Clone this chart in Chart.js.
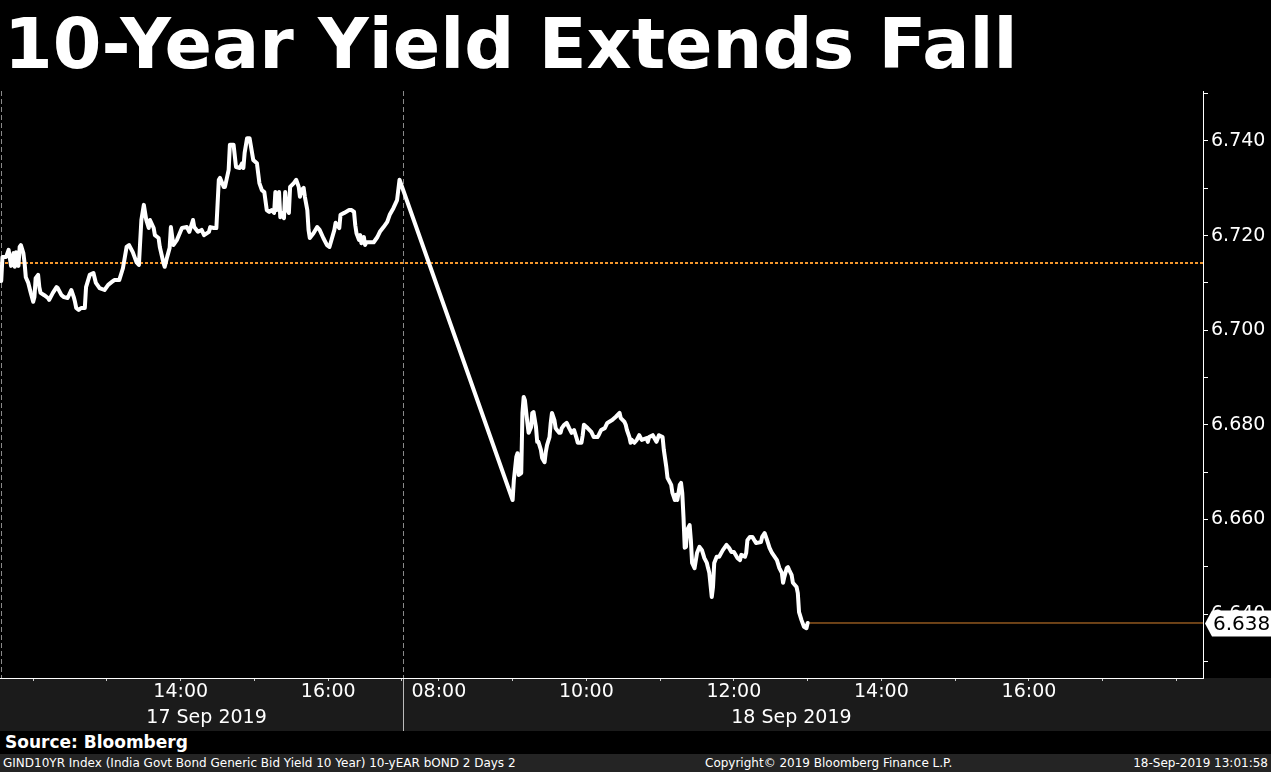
<!DOCTYPE html>
<html>
<head>
<meta charset="utf-8">
<script src="https://cdn.jsdelivr.net/npm/chart.js@4.4.0/dist/chart.umd.min.js"></script>
<style>
  html, body { margin: 0; padding: 0; background: #000; }
  body { width: 1271px; height: 772px; position: relative; overflow: hidden; font-family: 'DejaVu Sans', sans-serif; color: #fff; }
  #title { position: absolute; left: 4px; top: 9px; font-size: 70px; font-weight: bold; line-height: 1; white-space: nowrap; }
  #chartBox { position: absolute; left: 0; top: 88px; width: 1271px; height: 643px; }
  #source { position: absolute; left: 5px; top: 734px; font-size: 17px; font-weight: bold; line-height: 1; }
  #footer { position: absolute; left: 0; top: 754px; width: 1271px; height: 18px; background: #242424; font-size: 12px; line-height: 18px; white-space: nowrap; }
  #footer span { position: absolute; top: 0; }
</style>
</head>
<body>
<div id="title">10-Year Yield Extends Fall</div>
<div id="chartBox"><canvas id="chart" width="1271" height="643"></canvas></div>
<div id="source">Source: Bloomberg</div>
<div id="footer">
  <span style="left:3px">GIND10YR Index (India Govt Bond Generic Bid Yield 10 Year) 10-yEAR bOND 2 Days 2</span>
  <span style="left:705px">Copyright© 2019 Bloomberg Finance L.P.</span>
  <span style="right:3px">18-Sep-2019 13:01:58</span>
</div>
<script>
// 17 Sep 2019 intraday
const day1Times = [
  '11:34','11:35','11:38','11:40','11:42','11:44','11:45','11:46','11:48','11:49',
  '11:50','11:52','11:53','11:54','11:56','11:58','12:00','12:01','12:02','12:04',
  '12:05','12:06','12:09','12:12','12:13','12:16','12:19','12:20','12:23','12:25',
  '12:28','12:31','12:33','12:34','12:35','12:37','12:39','12:42','12:43','12:46',
  '12:49','12:51','12:54','12:58','13:01','13:04','13:06','13:10','13:13','13:16',
  '13:18','13:21','13:24','13:26','13:28','13:30','13:32','13:34','13:35','13:38',
  '13:39','13:42','13:43','13:46','13:47','13:49','13:51','13:52','13:54','13:57',
  '14:01','14:05','14:07','14:10','14:11','14:14','14:17','14:19','14:23','14:24',
  '14:27','14:29','14:31','14:32','14:35','14:36','14:39','14:40','14:43','14:45',
  '14:48','14:50','14:51','14:52','14:54','14:56','14:59','15:02','15:04','15:06',
  '15:08','15:10','15:12','15:14','15:16','15:17','15:18','15:20','15:21','15:22',
  '15:24','15:25','15:26','15:28','15:29','15:32','15:34','15:36','15:37','15:38',
  '15:40','15:41','15:43','15:44','15:45','15:48','15:51','15:53','15:56','15:59',
  '16:01','16:05','16:06','16:09','16:10','16:13','16:17','16:19','16:21','16:22',
  '16:23','16:25','16:26','16:27','16:29','16:30','16:31','16:34','16:37','16:40',
  '16:42','16:45','16:48','16:50','16:53','16:56','16:58'
];
const day1Yields = [
  6.7104, 6.7155, 6.7155, 6.7170, 6.7136, 6.7163, 6.7134, 6.7165, 6.7136, 6.7176,
  6.7180, 6.7163, 6.7142, 6.7112, 6.7100, 6.7079, 6.7060, 6.7070, 6.7110, 6.7117,
  6.7091, 6.7079, 6.7074, 6.7068, 6.7064, 6.7079, 6.7091, 6.7089, 6.7074, 6.7070,
  6.7068, 6.7085, 6.7070, 6.7060, 6.7047, 6.7043, 6.7047, 6.7047, 6.7091, 6.7117,
  6.7121, 6.7100, 6.7089, 6.7085, 6.7096, 6.7102, 6.7106, 6.7106, 6.7131, 6.7176,
  6.7180, 6.7165, 6.7144, 6.7138, 6.7233, 6.7265, 6.7233, 6.7216, 6.7233, 6.7216,
  6.7201, 6.7195, 6.7176, 6.7142, 6.7134, 6.7155, 6.7174, 6.7218, 6.7180, 6.7191,
  6.7216, 6.7218, 6.7208, 6.7233, 6.7218, 6.7208, 6.7212, 6.7201, 6.7208, 6.7218,
  6.7216, 6.7216, 6.7318, 6.7322, 6.7303, 6.7303, 6.7339, 6.7392, 6.7392, 6.7345,
  6.7343, 6.7353, 6.7343, 6.7375, 6.7406, 6.7406, 6.7360, 6.7353, 6.7311, 6.7296,
  6.7292, 6.7254, 6.7250, 6.7254, 6.7248, 6.7292, 6.7254, 6.7292, 6.7239, 6.7248,
  6.7237, 6.7292, 6.7258, 6.7248, 6.7303, 6.7311, 6.7318, 6.7303, 6.7282, 6.7296,
  6.7301, 6.7282, 6.7254, 6.7212, 6.7195, 6.7205, 6.7218, 6.7212, 6.7195, 6.7180,
  6.7176, 6.7212, 6.7227, 6.7216, 6.7244, 6.7248, 6.7254, 6.7254, 6.7250, 6.7222,
  6.7205, 6.7191, 6.7201, 6.7184, 6.7197, 6.7180, 6.7186, 6.7186, 6.7186, 6.7197,
  6.7208, 6.7218, 6.7229, 6.7244, 6.7258, 6.7275, 6.7318
];

// 18 Sep 2019 intraday
const day2Times = [
  '09:00','09:01','09:03','09:04','09:05','09:07','09:08','09:09','09:10','09:12',
  '09:13','09:15','09:16','09:17','09:19','09:20','09:21','09:23','09:24','09:26',
  '09:27','09:28','09:30','09:31','09:32','09:34','09:35','09:36','09:38','09:39',
  '09:40','09:42','09:44','09:46','09:48','09:50','09:52','09:53','09:56','09:57',
  '09:58','10:01','10:04','10:06','10:09','10:10','10:12','10:15','10:17','10:21',
  '10:24','10:27','10:28','10:31','10:32','10:33','10:35','10:36','10:37','10:39',
  '10:41','10:43','10:45','10:49','10:50','10:51','10:54','10:57','10:59','11:02',
  '11:03','11:05','11:06','11:09','11:10','11:12','11:13','11:14','11:16','11:17',
  '11:18','11:19','11:20','11:21','11:22','11:24','11:25','11:26','11:28','11:30',
  '11:32','11:34','11:36','11:38','11:39','11:40','11:42','11:43','11:44','11:46',
  '11:48','11:51','11:54','11:56','11:58','12:00','12:03','12:05','12:06','12:09',
  '12:10','12:11','12:13','12:15','12:18','12:22','12:23','12:25','12:27','12:29',
  '12:31','12:35','12:37','12:39','12:40','12:41','12:43','12:44','12:45','12:47',
  '12:48','12:51','12:52','12:53','12:55','12:57','12:59','13:00'
];
const day2Yields = [
  6.6641, 6.6683, 6.6732, 6.6740, 6.6694, 6.6698, 6.6825, 6.6859, 6.6852, 6.6804,
  6.6783, 6.6795, 6.6825, 6.6827, 6.6795, 6.6764, 6.6764, 6.6747, 6.6730, 6.6721,
  6.6743, 6.6757, 6.6774, 6.6804, 6.6825, 6.6810, 6.6793, 6.6789, 6.6783, 6.6783,
  6.6793, 6.6800, 6.6804, 6.6793, 6.6783, 6.6789, 6.6772, 6.6762, 6.6762, 6.6778,
  6.6800, 6.6793, 6.6785, 6.6774, 6.6774, 6.6778, 6.6789, 6.6793, 6.6804, 6.6810,
  6.6817, 6.6825, 6.6814, 6.6806, 6.6800, 6.6789, 6.6774, 6.6762, 6.6768, 6.6762,
  6.6768, 6.6778, 6.6768, 6.6772, 6.6764, 6.6774, 6.6778, 6.6764, 6.6778, 6.6774,
  6.6747, 6.6711, 6.6688, 6.6673, 6.6656, 6.6641, 6.6652, 6.6641, 6.6673, 6.6677,
  6.6656, 6.6605, 6.6540, 6.6542, 6.6578, 6.6588, 6.6556, 6.6508, 6.6497, 6.6529,
  6.6542, 6.6535, 6.6518, 6.6508, 6.6497, 6.6487, 6.6436, 6.6457, 6.6508, 6.6521,
  6.6521, 6.6535, 6.6546, 6.6540, 6.6531, 6.6531, 6.6518, 6.6514, 6.6525, 6.6521,
  6.6529, 6.6556, 6.6563, 6.6563, 6.6550, 6.6552, 6.6563, 6.6571, 6.6556, 6.6540,
  6.6529, 6.6514, 6.6497, 6.6487, 6.6466, 6.6478, 6.6497, 6.6499, 6.6493, 6.6482,
  6.6466, 6.6457, 6.6444, 6.6404, 6.6387, 6.6373, 6.6370, 6.6381
];

const prevClose = 6.7142;
const day1TickLabels = ['14:00', '16:00'];
const day2TickLabels = ['08:00', '10:00', '12:00', '14:00', '16:00'];
const dateLabels = ['17 Sep 2019', '18 Sep 2019'];

// the x axis is in hours, with the overnight gap cut out:
// day 1 closes at 17:00, day 2 axis opens at 07:30
const DAY1_END = 17;
const DAY2_START = 7.5;
const GAP = DAY1_END - DAY2_START;
const X_MIN = 11.55;
const X_MAX = 27.86;

function toHours(s) {
  const [h, m] = s.split(':').map(Number);
  return h + m / 60;
}
function fmtHour(h) {
  return String(h).padStart(2, '0') + ':00';
}

const lineData = [
  ...day1Times.map((t, i) => ({ x: toHours(t), y: day1Yields[i] })),
  ...day2Times.map((t, i) => ({ x: toHours(t) + GAP, y: day2Yields[i] }))
];
const last = lineData[lineData.length - 1];
const lastLabel = last.y.toFixed(3);

const FONT = 'DejaVu Sans';

const decorations = {
  id: 'decorations',
  beforeDraw(chart) {
    const { ctx, chartArea: a, scales: { x } } = chart;
    ctx.save();
    ctx.fillStyle = '#000';
    ctx.fillRect(0, 0, chart.width, chart.height);
    ctx.fillStyle = '#1b1b1b';
    ctx.fillRect(0, a.bottom, chart.width, chart.height - a.bottom);

    ctx.strokeStyle = '#8a8a8a';
    ctx.lineWidth = 1;
    ctx.setLineDash([5, 3]);
    const left = Math.round(x.left) + 1.5;
    const div = Math.round(x.getPixelForValue(DAY1_END)) + 1.5;
    ctx.beginPath();
    ctx.moveTo(left, a.top); ctx.lineTo(left, a.bottom);
    ctx.moveTo(div, a.top); ctx.lineTo(div, a.bottom);
    ctx.stroke();
    ctx.setLineDash([]);
    ctx.strokeStyle = '#bbb';
    ctx.beginPath();
    ctx.moveTo(div, a.bottom); ctx.lineTo(div, chart.height);
    ctx.stroke();
    ctx.restore();
  },
  afterDraw(chart) {
    const { ctx, chartArea: a, scales: { x, y } } = chart;
    ctx.save();
    // date row under the time labels
    ctx.fillStyle = '#fff';
    ctx.font = '19px ' + FONT;
    ctx.textAlign = 'center';
    ctx.textBaseline = 'middle';
    ctx.fillText(dateLabels[0], x.getPixelForValue(14.35), a.bottom + 40);
    ctx.fillText(dateLabels[1], x.getPixelForValue(22.28), a.bottom + 40);

    // last value tag on the right axis
    const py = Math.round(y.getPixelForValue(last.y)) + 0.5;
    const l = a.right + 2;
    ctx.beginPath();
    ctx.moveTo(l, py);
    ctx.lineTo(l + 7, py - 13);
    ctx.lineTo(chart.width, py - 13);
    ctx.lineTo(chart.width, py + 13);
    ctx.lineTo(l + 7, py + 13);
    ctx.closePath();
    ctx.fillStyle = '#fff';
    ctx.fill();
    ctx.fillStyle = '#000';
    ctx.textAlign = 'left';
    ctx.font = '20px ' + FONT;
    ctx.fillText(lastLabel, l + 8, py + 1);
    ctx.restore();
  }
};

new Chart(document.getElementById('chart'), {
  type: 'line',
  data: {
    datasets: [
      {
        data: lineData,
        borderColor: '#fff',
        borderWidth: 4,
        borderJoinStyle: 'round',
        borderCapStyle: 'round',
        pointRadius: 0,
        tension: 0,
        order: 0
      },
      {
        data: [{ x: X_MIN, y: prevClose }, { x: X_MAX, y: prevClose }],
        borderColor: '#f5972c',
        borderWidth: 2,
        borderDash: [3, 2],
        pointRadius: 0,
        order: 1
      },
      {
        data: [{ x: last.x, y: last.y }, { x: X_MAX, y: last.y }],
        borderColor: '#d8822e',
        borderWidth: 1,
        pointRadius: 0,
        order: 1
      }
    ]
  },
  options: {
    responsive: false,
    animation: false,
    devicePixelRatio: 1,
    layout: { padding: { top: 3, left: 0, right: 0, bottom: 0 } },
    plugins: { legend: { display: false }, tooltip: { enabled: false } },
    scales: {
      x: {
        type: 'linear',
        min: X_MIN,
        max: X_MAX,
        afterFit: s => { s.height = 53; s.paddingLeft = 0; s.paddingRight = 0; },
        afterBuildTicks: s => {
          const ticks = [];
          for (let h = 12; h <= 17; h++) ticks.push({ value: h });
          for (let h = 8; h <= 18; h++) ticks.push({ value: h + GAP });
          s.ticks = ticks;
        },
        grid: { drawOnChartArea: false, drawTicks: true, tickLength: 3, tickColor: '#ccc' },
        border: { color: '#fff', width: 1 },
        ticks: {
          autoSkip: false,
          maxRotation: 0,
          padding: 0,
          color: '#fff',
          font: { family: FONT, size: 19 },
          callback: v => {
            if (v <= DAY1_END) {
              const s = fmtHour(v);
              return day1TickLabels.includes(s) ? s : '';
            }
            const s = fmtHour(Math.round(v - GAP));
            return day2TickLabels.includes(s) ? s : '';
          }
        }
      },
      y: {
        position: 'right',
        min: 6.62647,
        max: 6.75057,
        afterFit: s => { s.width = 68; s.paddingTop = 0; s.paddingBottom = 0; },
        grid: { drawOnChartArea: false, drawTicks: true, tickLength: 5, tickColor: '#fff' },
        border: { color: '#fff', width: 1 },
        ticks: {
          stepSize: 0.01,
          includeBounds: false,
          padding: 3,
          color: '#fff',
          font: { family: FONT, size: 19 },
          callback: v => {
            const k = Math.round(v * 1000);
            return k % 20 === 0 ? (k / 1000).toFixed(3) : '';
          }
        }
      }
    }
  },
  plugins: [decorations]
});
</script>
</body>
</html>
